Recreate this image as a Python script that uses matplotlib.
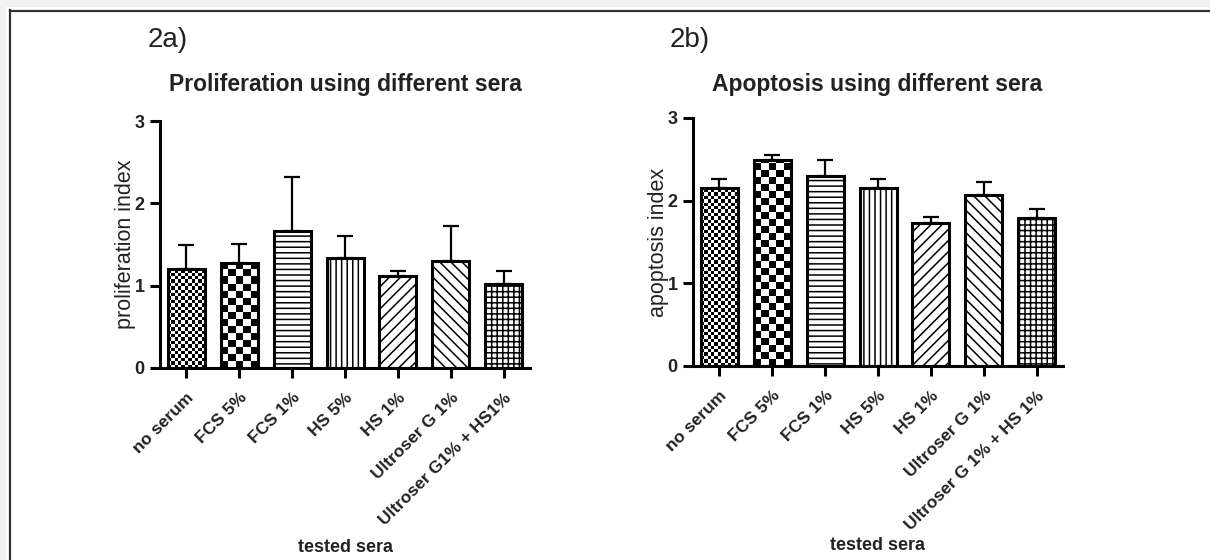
import numpy as np
import matplotlib
matplotlib.use('Agg')
import matplotlib.pyplot as plt
from matplotlib.patches import Rectangle
from matplotlib.lines import Line2D

sera_a = ['no serum', 'FCS 5%', 'FCS 1%', 'HS 5%', 'HS 1%', 'Ultroser G 1%', 'Ultroser G1% + HS1%']
sera_b = ['no serum', 'FCS 5%', 'FCS 1%', 'HS 5%', 'HS 1%', 'Ultroser G 1%', 'Ultroser G 1% + HS 1%']
prolif = [1.20, 1.28, 1.67, 1.33, 1.12, 1.30, 1.02]
prolif_err = [0.29, 0.23, 0.65, 0.27, 0.06, 0.43, 0.16]
apopt = [2.15, 2.49, 2.30, 2.15, 1.73, 2.07, 1.79]
apopt_err = [0.11, 0.06, 0.19, 0.11, 0.07, 0.15, 0.11]

# fill style per bar: ('check', cell px) or a hatch string
fills = [('check', 3.4), ('check', 7.0), '---', '|||', '///', '\\\\\\', '+++']

plt.rcParams['font.family'] = ['Liberation Sans', 'DejaVu Sans']
plt.rcParams['hatch.linewidth'] = 1.1
plt.rcParams['hatch.color'] = 'black'

fig = plt.figure(figsize=(12.1, 5.6), dpi=100, facecolor='#f2f2f2')
W, H = 1210, 560

# white panel with dark frame on top and left
fig.patches.append(Rectangle((6 / W, 0), 1, 1 - 7 / H, transform=fig.transFigure,
                             facecolor='white', edgecolor='none', zorder=-10))
fig.lines.append(Line2D([10 / W, 10 / W], [0, 1 - 10 / H], transform=fig.transFigure,
                        color='#333333', lw=1.6, zorder=-9))
fig.lines.append(Line2D([10 / W, 1], [1 - 11 / H, 1 - 11 / H], transform=fig.transFigure,
                        color='#333333', lw=1.6, zorder=-9))


def checker_fill(ax, bar, cell):
    x0, y0 = bar.get_x(), bar.get_y()
    w, h = bar.get_width(), bar.get_height()
    p0 = ax.transData.transform((x0, y0))
    p1 = ax.transData.transform((x0 + w, y0 + h))
    nx = max(1, int(round((p1[0] - p0[0]) / cell)))
    ny = max(1, int(np.ceil((p1[1] - p0[1]) / cell)) + 1)
    ii, jj = np.indices((ny, nx))
    arr = ((ii + jj) % 2).astype(float)
    cw = w / nx
    ch = (ax.transData.inverted().transform((0, p0[1] + cell))[1]
          - ax.transData.inverted().transform((0, p0[1]))[1])
    im = ax.imshow(arr, cmap='gray', interpolation='nearest', aspect='auto',
                   extent=(x0, x0 + nx * cw, y0, y0 + ny * ch), origin='lower',
                   zorder=2.5)
    im.set_clip_path(bar)


def panel(rect, labels, vals, errs, ylabel, title, tag, tagx, titlex):
    ax = fig.add_axes(rect)
    ax.set_xlim(-0.5, 6.5)
    ax.set_ylim(0, 3)
    x = np.arange(len(vals))
    ax.errorbar(x, vals, yerr=[np.zeros(len(errs)), errs], fmt='none', ecolor='black',
                elinewidth=1.6, capsize=6, capthick=1.6, zorder=1)
    bars = ax.bar(x, vals, width=0.7, facecolor='white', edgecolor='black',
                  linewidth=0, zorder=2)
    for b, f in zip(bars, fills):
        if isinstance(f, tuple):
            checker_fill(ax, b, f[1])
        else:
            b.set_hatch(f)
    ax.bar(x, vals, width=0.7, fill=False, edgecolor='black', linewidth=2.2, zorder=4)
    ax.set_xlim(-0.5, 6.5)
    ax.set_ylim(0, 3)
    for s in ['top', 'right']:
        ax.spines[s].set_visible(False)
    for s in ['left', 'bottom']:
        ax.spines[s].set_linewidth(2.2)
    ax.set_yticks([0, 1, 2, 3])
    ax.set_xticks(x)
    ax.set_xticklabels(labels, rotation=45, ha='right', rotation_mode='anchor',
                       fontsize=12.5, fontweight='bold', color='#222222')
    ax.tick_params(axis='both', width=2.2, length=7, color='black')
    ax.tick_params(axis='x', pad=9)
    ax.tick_params(axis='y', pad=4)
    for t in ax.get_yticklabels():
        t.set_fontsize(13)
        t.set_fontweight('bold')
        t.set_color('#222222')
    ax.set_ylabel(ylabel, fontsize=15.5, color='#222222')
    ax.yaxis.set_label_coords(-24 / (rect[2] * W), 0.5)
    ax.set_xlabel('tested sera', fontsize=13, fontweight='bold', color='#222222')
    ax.xaxis.set_label_coords(0.5, -171 / (rect[3] * H))
    fig.text(titlex / W, 1 - 84 / H, title, ha='center', va='center', fontsize=16.5,
             fontweight='bold', color='#222222')
    fig.text(tagx / W, 1 - 40 / H, tag, ha='left', va='center', fontsize=20,
             family=['Liberation Sans Narrow', 'Liberation Sans', 'DejaVu Sans'],
             color='#222222')
    return ax


panel([160 / W, 1 - 368 / H, 370 / W, 247 / H], sera_a, prolif, prolif_err,
      'proliferation index', 'Proliferation using different sera', '2a)', 148, 345)
panel([693 / W, 1 - 366 / H, 370 / W, 248 / H], sera_b, apopt, apopt_err,
      'apoptosis index', 'Apoptosis using different sera', '2b)', 670, 877)

fig.savefig('out.png', dpi=100, facecolor=fig.get_facecolor())
